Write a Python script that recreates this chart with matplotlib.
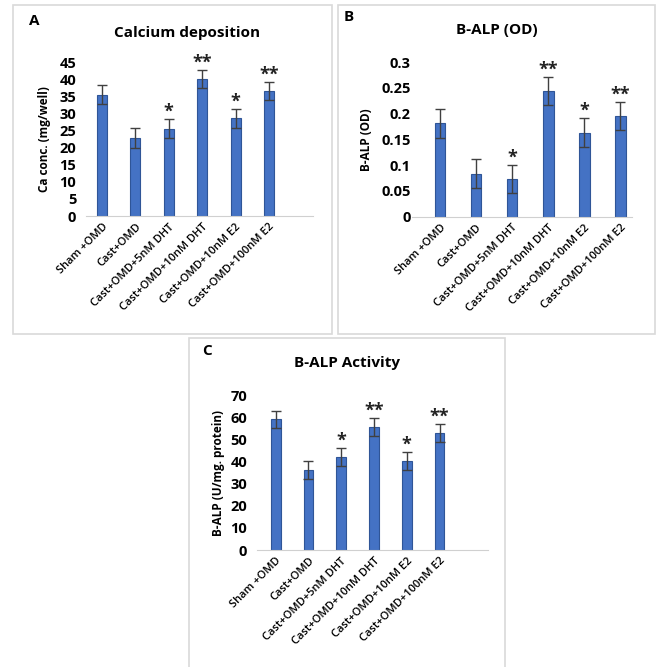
import numpy as np
import matplotlib
matplotlib.use("Agg")
import matplotlib.pyplot as plt
from matplotlib.patches import Rectangle

plt.rcParams['font.family'] = ['Open Sans', 'DejaVu Sans']

groups = ["Sham +OMD", "Cast+OMD", "Cast+OMD+5nM DHT",
          "Cast+OMD+10nM DHT", "Cast+OMD+10nM E2", "Cast+OMD+100nM E2"]

# Panel A - calcium deposition
ca_vals = [35.5, 22.8, 25.5, 40.0, 28.5, 36.5]
ca_err = [2.8, 2.8, 2.8, 2.7, 2.8, 2.7]
ca_sig = ["", "", "*", "**", "*", "**"]

# Panel B - B-ALP (OD)
od_vals = [0.181, 0.083, 0.073, 0.243, 0.163, 0.195]
od_err = [0.028, 0.028, 0.027, 0.027, 0.028, 0.027]
od_sig = ["", "", "*", "**", "*", "**"]

# Panel C - B-ALP activity
act_vals = [59.2, 36.2, 42.2, 55.8, 40.3, 53.0]
act_err = [3.9, 4.0, 4.0, 4.0, 4.0, 4.0]
act_sig = ["", "", "*", "**", "*", "**"]

W, H = 660, 667
fig = plt.figure(figsize=(W / 100, H / 100), dpi=100)
fig.patch.set_facecolor("white")


def px_axes(x0, y0, x1, y1):
    # pixel box (top-left origin) -> figure axes
    return fig.add_axes([x0 / W, 1 - y1 / H, (x1 - x0) / W, (y1 - y0) / H])


def frame(x0, y0, x1, y1):
    fig.patches.append(Rectangle((x0 / W, 1 - y1 / H), (x1 - x0) / W, (y1 - y0) / H,
                                 transform=fig.transFigure, fill=False,
                                 edgecolor="#d9d9d9", linewidth=1.2))


def panel(box, vals, err, sig, ylim, yticks, ytl, xlim, ylabel, ypad):
    ax = px_axes(*box)
    x = np.arange(len(vals))
    ax.bar(x, vals, width=0.3, color="#4472c4", edgecolor="#2f5597", linewidth=0.8,
           yerr=err, error_kw=dict(ecolor="#404040", elinewidth=1.0, capsize=3.5, capthick=1.0))
    span = ylim[1] - ylim[0]
    for i in range(len(vals)):
        if sig[i]:
            ax.text(x[i], vals[i] + err[i] - span * 0.01, sig[i], ha="center", va="bottom",
                    fontsize=13, fontweight="bold", color="#222222")
    ax.set_ylim(*ylim)
    ax.set_xlim(*xlim)
    ax.set_yticks(yticks)
    ax.set_yticklabels(ytl, fontsize=10.5, fontweight="bold")
    ax.set_xticks(x)
    ax.set_xticklabels(groups, rotation=45, ha="right", rotation_mode="anchor",
                       fontsize=8, fontweight="semibold")
    for s in ["top", "right", "left"]:
        ax.spines[s].set_visible(False)
    ax.spines["bottom"].set_color("#d0d0d0")
    ax.tick_params(length=0)
    ax.tick_params(axis="y", pad=ypad)
    ax.tick_params(axis="x", pad=4)
    ax.set_ylabel(ylabel, fontsize=8.5, fontweight="bold")
    ax.set_facecolor("none")
    return ax


# frames
frame(13, 5, 332, 334)
frame(338, 5, 655, 334)
frame(189, 338, 505, 668)

axA = panel((86, 62, 313, 216), ca_vals, ca_err, ca_sig, (0, 45),
            np.arange(0, 46, 5), [str(v) for v in range(0, 46, 5)],
            (-0.48, 6.32), "Ca conc. (mg/well)", 7)
axA.yaxis.set_label_coords(-0.155, 0.5)

axB = panel((412, 62, 632, 216.7), od_vals, od_err, od_sig, (0, 0.3),
            np.arange(0, 0.31, 0.05), ["0", "0.05", "0.1", "0.15", "0.2", "0.25", "0.3"],
            (-0.78, 5.33), "B-ALP (OD)", 1)
axB.yaxis.set_label_coords(-0.177, 0.5)

axC = panel((257, 395.3, 488, 550), act_vals, act_err, act_sig, (0, 70),
            np.arange(0, 71, 10), [str(v) for v in range(0, 71, 10)],
            (-0.57, 6.48), "B-ALP (U/mg. protein)", 7)
axC.yaxis.set_label_coords(-0.138, 0.5)

# titles and panel letters
fig.text(187 / W, 1 - 33 / H, "Calcium deposition", ha="center", va="center",
         fontsize=11, fontweight="bold")
fig.text(497 / W, 1 - 30 / H, "B-ALP (OD)", ha="center", va="center",
         fontsize=11, fontweight="bold")
fig.text(347 / W, 1 - 363 / H, "B-ALP Activity", ha="center", va="center",
         fontsize=11, fontweight="bold")
fig.text(34 / W, 1 - 21 / H, "A", ha="center", va="center", fontsize=11, fontweight="bold")
fig.text(349 / W, 1 - 17 / H, "B", ha="center", va="center", fontsize=11, fontweight="bold")
fig.text(207 / W, 1 - 351 / H, "C", ha="center", va="center", fontsize=11, fontweight="bold")

fig.savefig("out.png", dpi=100)
